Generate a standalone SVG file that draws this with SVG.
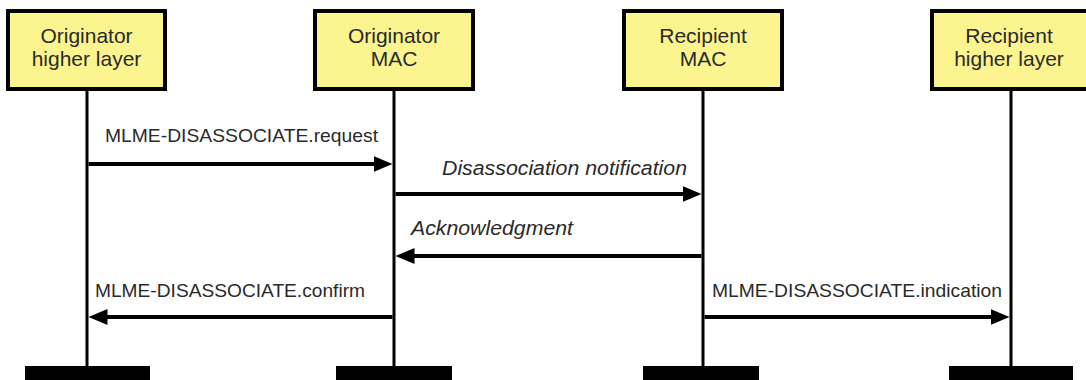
<svg xmlns="http://www.w3.org/2000/svg" width="1086" height="380" viewBox="0 0 1086 380">
  <style>
    .box { fill: #fcf48e; stroke: #000; stroke-width: 4; }
    .title { font-family: "Liberation Sans", Arial, sans-serif; font-size: 21px; fill: #2a2a2a; text-anchor: middle; }
    .life { stroke: #000; stroke-width: 3; }
    .bar { fill: #000; }
    .msg { stroke: #000; stroke-width: 4; fill: none; marker-end: url(#head); }
    .lbl { font-family: "Liberation Sans", Arial, sans-serif; font-size: 19px; fill: #2a2a2a; }
    .lbl-i { font-family: "Liberation Sans", Arial, sans-serif; font-size: 20px; font-style: italic; fill: #2a2a2a; }
  </style>
  <defs>
    <marker id="head" markerUnits="userSpaceOnUse" markerWidth="20" markerHeight="18" viewBox="0 0 20 18" refX="9" refY="9" orient="auto">
      <path d="M0,1 L19,9 L0,17 z" fill="#000"/>
    </marker>
  </defs>
  <rect width="1086" height="380" fill="#fff"/>

  <!-- participants -->
  <g id="orig-hl">
    <rect class="box" x="8" y="11" width="157" height="78"/>
    <text class="title" x="86.5" y="43">Originator</text>
    <text class="title" x="86.5" y="66">higher layer</text>
    <line class="life" x1="87" y1="89" x2="87" y2="367"/>
    <rect class="bar" x="25" y="366" width="125" height="14"/>
  </g>
  <g id="orig-mac">
    <rect class="box" x="315" y="11" width="158" height="78"/>
    <text class="title" x="394" y="43">Originator</text>
    <text class="title" x="394" y="66">MAC</text>
    <line class="life" x1="394" y1="89" x2="394" y2="367"/>
    <rect class="bar" x="336" y="366" width="116" height="14"/>
  </g>
  <g id="recip-mac">
    <rect class="box" x="624" y="11" width="158" height="78"/>
    <text class="title" x="703" y="43">Recipient</text>
    <text class="title" x="703" y="66">MAC</text>
    <line class="life" x1="703" y1="89" x2="703" y2="367"/>
    <rect class="bar" x="643" y="366" width="116" height="14"/>
  </g>
  <g id="recip-hl">
    <rect class="box" x="932" y="11" width="158" height="78"/>
    <text class="title" x="1009" y="43">Recipient</text>
    <text class="title" x="1009" y="66">higher layer</text>
    <line class="life" x1="1011" y1="89" x2="1011" y2="367"/>
    <rect class="bar" x="949" y="366" width="124" height="14"/>
  </g>

  <!-- messages -->
  <g id="connectors">
    <line class="msg" x1="88.5" y1="164" x2="382.5" y2="164"/>
    <line class="msg" x1="395.5" y1="194" x2="691.5" y2="194"/>
    <line class="msg" x1="701.5" y1="256" x2="405.5" y2="256"/>
    <line class="msg" x1="392.5" y1="317" x2="98.5" y2="317"/>
    <line class="msg" x1="704.5" y1="317" x2="999.5" y2="317"/>
  </g>

  <g id="labels">
    <text class="lbl" x="105" y="142" textLength="273" lengthAdjust="spacingAndGlyphs">MLME-DISASSOCIATE.request</text>
    <text class="lbl-i" x="442" y="175" textLength="245" lengthAdjust="spacingAndGlyphs">Disassociation notification</text>
    <text class="lbl-i" x="411" y="235" textLength="162" lengthAdjust="spacingAndGlyphs">Acknowledgment</text>
    <text class="lbl" x="95" y="297" textLength="270" lengthAdjust="spacingAndGlyphs">MLME-DISASSOCIATE.confirm</text>
    <text class="lbl" x="712" y="297" textLength="290" lengthAdjust="spacingAndGlyphs">MLME-DISASSOCIATE.indication</text>
  </g>
</svg>
